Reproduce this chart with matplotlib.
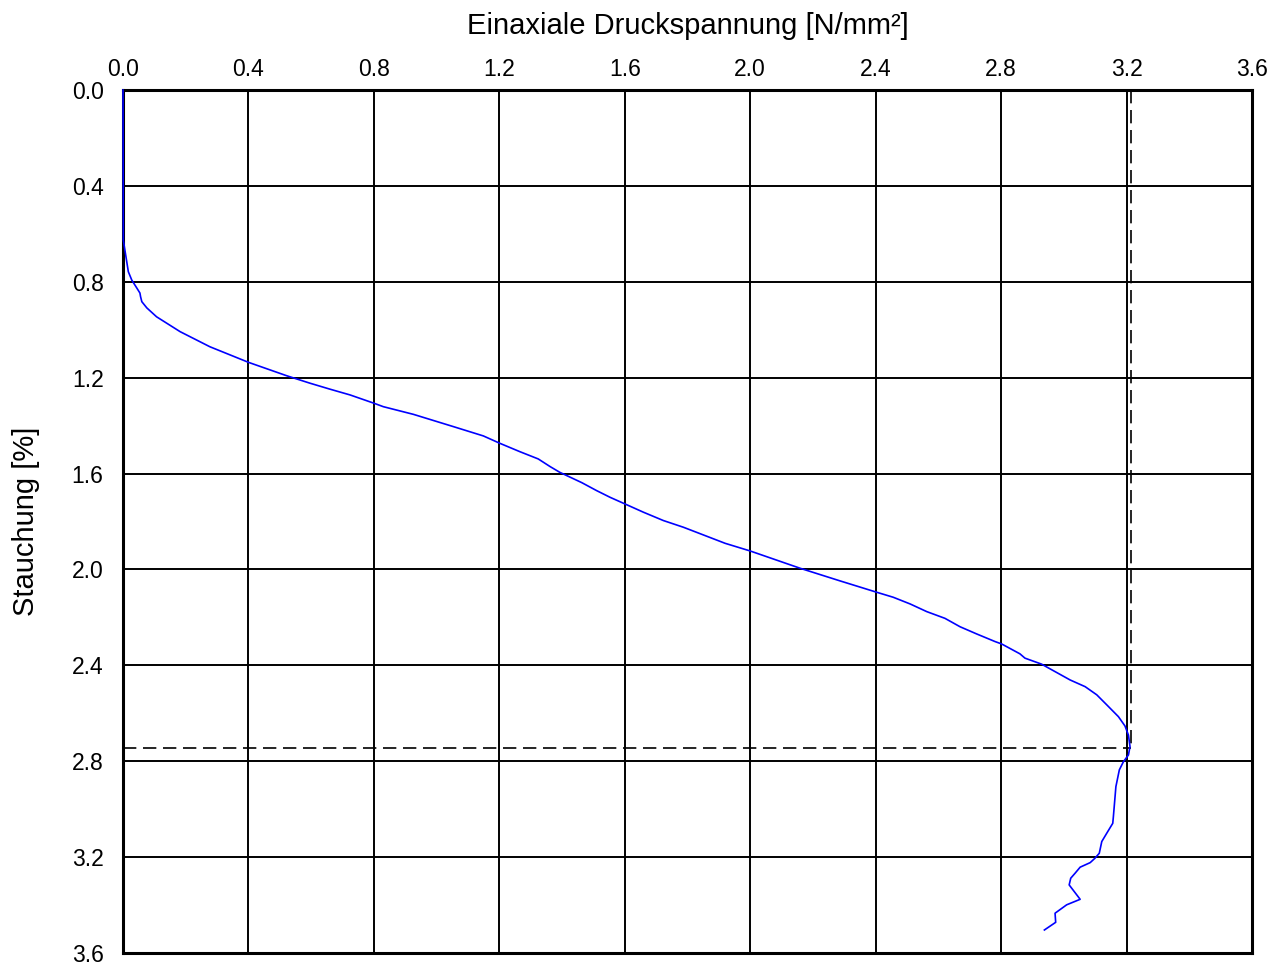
import matplotlib
matplotlib.use("Agg")
import matplotlib.pyplot as plt

# Uniaxial compression test: stress [N/mm²] vs. strain [%]
stress = [0.000, 0.001, 0.017, 0.028, 0.044, 0.054, 0.056, 0.060, 0.076, 0.107,
          0.182, 0.277, 0.400, 0.522, 0.596, 0.660, 0.724, 0.801, 0.830, 0.926,
          1.053, 1.149, 1.202, 1.266, 1.324, 1.362, 1.393, 1.463, 1.510, 1.553,
          1.601, 1.659, 1.723, 1.787, 1.920, 2.000, 2.159, 2.287, 2.403, 2.456,
          2.510, 2.563, 2.621, 2.669, 2.722, 2.781, 2.802, 2.860, 2.876, 2.929,
          3.020, 3.068, 3.105, 3.137, 3.174, 3.195, 3.206, 3.211, 3.206, 3.190,
          3.177, 3.166, 3.158, 3.156, 3.137, 3.121, 3.113, 3.099, 3.084, 3.052,
          3.036, 3.022, 3.017, 3.052, 3.009, 2.972, 2.974, 2.938]
strain = [0.000, 0.626, 0.758, 0.793, 0.826, 0.847, 0.862, 0.883, 0.909, 0.946,
          1.008, 1.071, 1.136, 1.192, 1.223, 1.248, 1.272, 1.307, 1.321, 1.353,
          1.404, 1.443, 1.474, 1.509, 1.539, 1.571, 1.595, 1.638, 1.671, 1.699,
          1.727, 1.761, 1.796, 1.824, 1.891, 1.923, 1.995, 2.048, 2.095, 2.116,
          2.144, 2.176, 2.204, 2.239, 2.269, 2.301, 2.311, 2.352, 2.370, 2.395,
          2.461, 2.489, 2.523, 2.565, 2.614, 2.653, 2.691, 2.739, 2.774, 2.802,
          2.836, 2.906, 3.031, 3.059, 3.100, 3.135, 3.184, 3.205, 3.223, 3.242,
          3.267, 3.288, 3.316, 3.376, 3.399, 3.434, 3.472, 3.504]

peak_stress = 3.214
peak_strain = 2.743

ticks = [0.0, 0.4, 0.8, 1.2, 1.6, 2.0, 2.4, 2.8, 3.2, 3.6]

plt.rcParams['font.family'] = ['Liberation Sans', 'DejaVu Sans']

fig = plt.figure(figsize=(12.87, 9.68), dpi=100)
ax = fig.add_axes([123 / 1287, 1 - 953 / 968, (1252 - 123) / 1287, (953 - 90) / 968])

ax.set_xlim(0, 3.6)
ax.set_ylim(3.6, 0)
ax.set_xticks(ticks)
ax.set_yticks(ticks)
ax.set_xticklabels([f"{t:.1f}" for t in ticks])
ax.set_yticklabels([f"{t:.1f}" for t in ticks])

ax.xaxis.tick_top()
ax.xaxis.set_label_position('top')
ax.tick_params(axis='both', length=0, labelsize=16.5)
ax.tick_params(axis='x', pad=6.5)
ax.tick_params(axis='y', pad=14)

ax.grid(True, color='black', linewidth=1.4)
ax.set_axisbelow(True)
for s in ax.spines.values():
    s.set_linewidth(2.2)
    s.set_color('black')

ax.plot(stress, strain, color='#0000ff', linewidth=1.2, zorder=5, clip_on=False)

# peak markers
ax.plot([peak_stress, peak_stress], [0, peak_strain], color='black',
        linewidth=1.2, linestyle=(0, (8, 4)), zorder=2)
ax.plot([0, peak_stress], [peak_strain, peak_strain], color='black',
        linewidth=1.2, linestyle=(0, (8, 4)), zorder=2)

ax.set_xlabel('Einaxiale Druckspannung [N/mm²]', fontsize=21)
ax.set_ylabel('Stauchung [%]', fontsize=21)
ax.xaxis.set_label_coords(0.5, (953 - 34) / 863)
ax.yaxis.set_label_coords((40 - 123) / 1129, 0.5)

fig.savefig('out.png', dpi=100)
